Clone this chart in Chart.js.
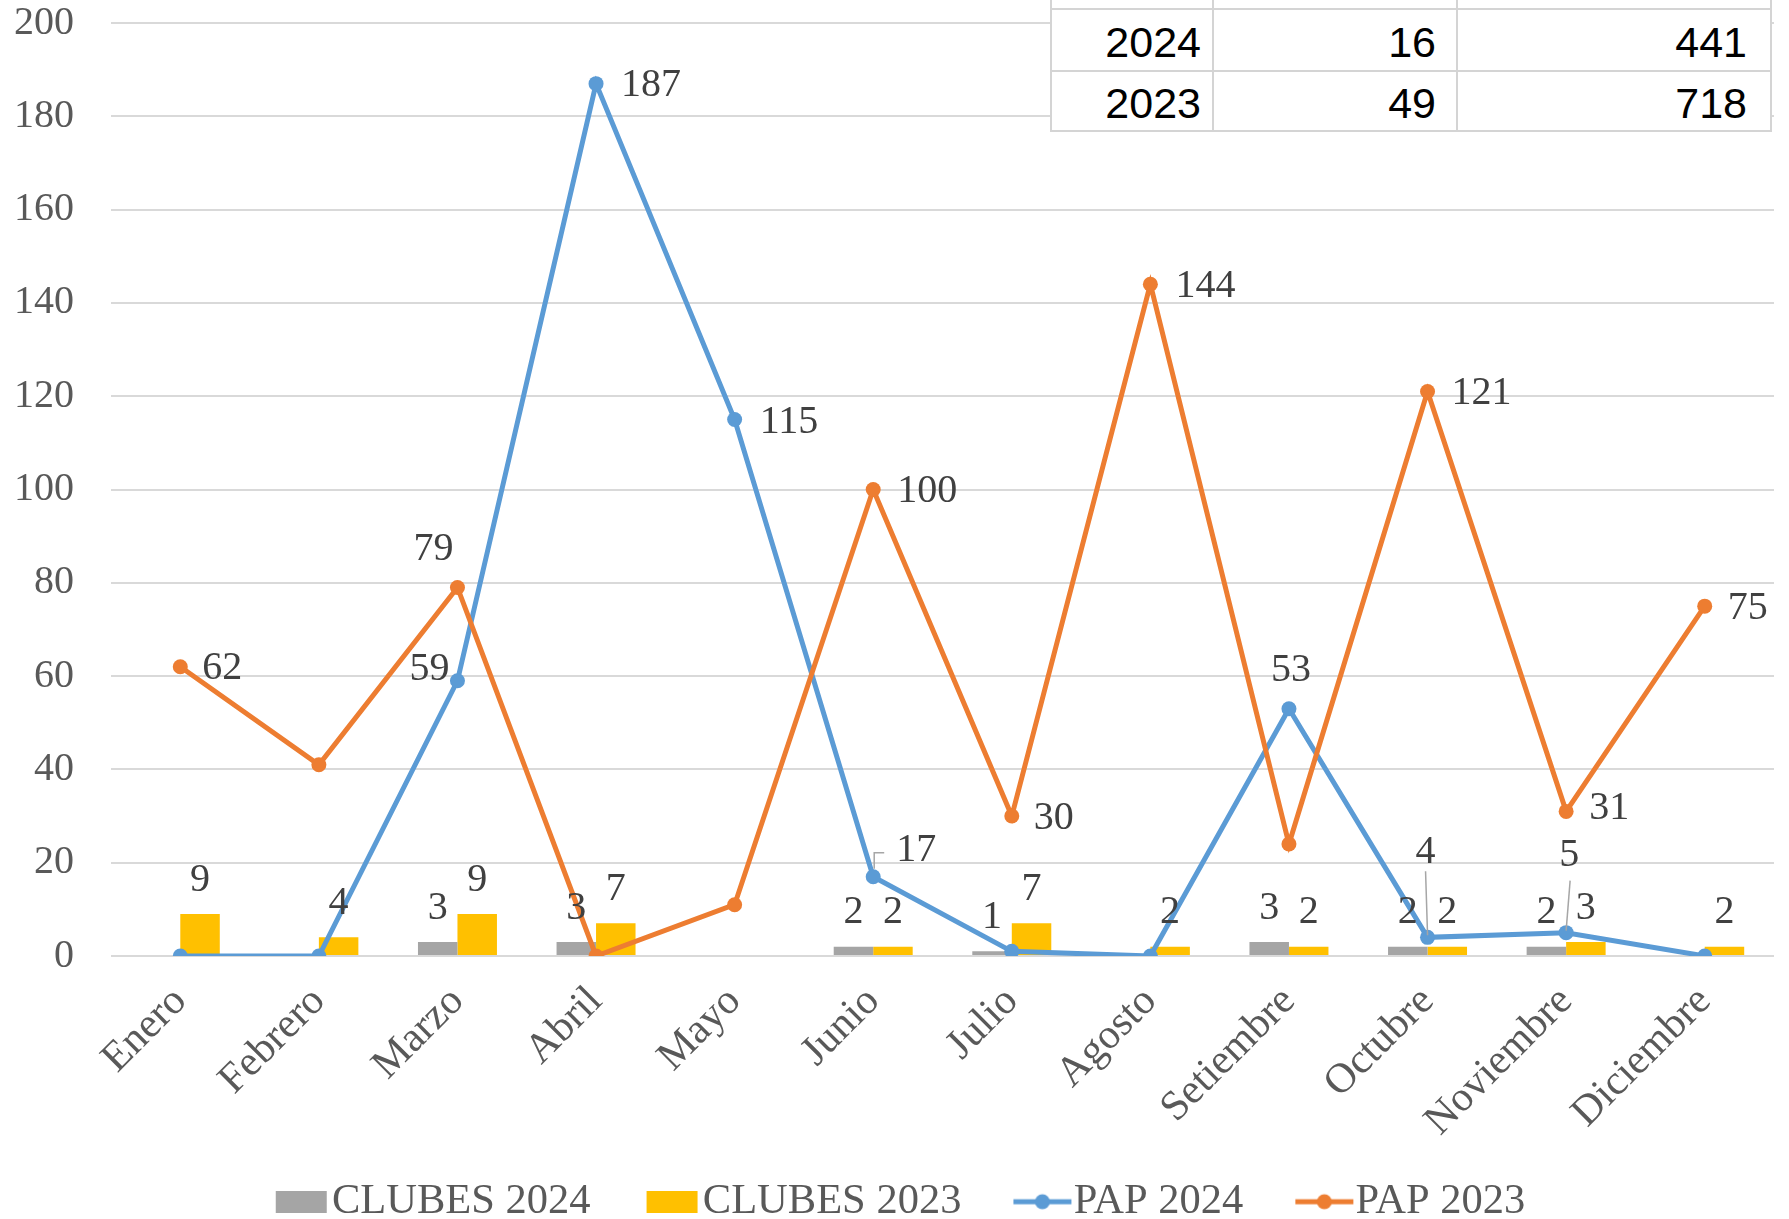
<!DOCTYPE html>
<html><head><meta charset="utf-8">
<script src="https://cdn.jsdelivr.net/npm/chart.js@4.4.1/dist/chart.umd.min.js"></script>
<style>
html,body{margin:0;padding:0;background:#fff;}
#wrap{position:relative;width:1789px;height:1219px;overflow:hidden;background:#fff;}
#c{position:absolute;left:0;top:0;}
#tbl{position:absolute;left:1050px;top:-52px;border-collapse:collapse;background:#fff;font-family:"Liberation Sans",Arial,sans-serif;font-size:43px;color:#000;table-layout:fixed;}
#tbl td{border:2px solid #d4d4d4;text-align:right;padding:4px 0 0 0;box-sizing:border-box;line-height:1;}
#tbl td.c1{width:162px;padding-right:11px;}
#tbl td.c2{width:244px;padding-right:20px;}
#tbl td.c3{width:314px;padding-right:23px;}
</style></head>
<body>
<div id="wrap">
<canvas id="c" width="1789" height="1219"></canvas>
<table id="tbl">
<tr style="height:60px"><td class="c1"></td><td class="c2"></td><td class="c3"></td></tr>
<tr style="height:62px"><td class="c1">2024</td><td class="c2">16</td><td class="c3">441</td></tr>
<tr style="height:60px"><td class="c1">2023</td><td class="c2">49</td><td class="c3">718</td></tr>
</table>
</div>
<script>
// ---- data ----
const months = ['Enero','Febrero','Marzo','Abril','Mayo','Junio','Julio','Agosto','Setiembre','Octubre','Noviembre','Diciembre'];
const clubes2024 = [null,null,3,3,null,2,1,null,3,2,2,null];
const clubes2023 = [9,4,9,7,null,2,7,2,2,2,3,2];
const pap2024 = [0,0,59,187,115,17,1,0,53,4,5,0];
const pap2023 = [62,41,79,0,11,100,30,144,24,121,31,75];
const seriesNames = ['CLUBES 2024','CLUBES 2023','PAP 2024','PAP 2023'];
const yMin = 0, yMax = 200, yStep = 20;

// ---- styling ----
const SERIF = '"Liberation Serif", "Times New Roman", serif';
const colors = ['#a5a5a5','#ffc000','#5b9bd5','#ed7d31'];

// label placement for line series (dataset index -> point index -> placement)
const lineLabelLayout = {
  2: {
    2:{a:'right',dx:-8,dy:-11},
    3:{a:'left',dx:25,dy:2},
    4:{a:'left',dx:25,dy:3},
    5:{a:'left',dx:23,dy:-26,leader:[[1,-8],[1,-24],[11,-24]]},
    8:{a:'center',dx:2,dy:-38},
    9:{a:'center',dx:-2,dy:-85,leader:[[0,-2],[-2,-66]]},
    10:{a:'center',dx:3,dy:-77,leader:[[0,-2],[4,-52]]}
  },
  3: {
    0:{a:'left',dx:22,dy:2},
    2:{a:'center',dx:-24,dy:-38},
    5:{a:'left',dx:24,dy:2},
    6:{a:'left',dx:22,dy:2},
    7:{a:'left',dx:25,dy:2},
    9:{a:'left',dx:24,dy:2},
    10:{a:'left',dx:23,dy:-3},
    11:{a:'left',dx:23,dy:2}
  }
};

// legend icons: wide transparent canvas, symbol placed so it sits next to the text
const LEG_BOX_W = 62, ICON_W = 220;
function makeRectIcon(color){
  const c = document.createElement('canvas');
  c.width = ICON_W; c.height = 22;
  const g = c.getContext('2d');
  const x0 = ICON_W/2 - LEG_BOX_W/2 + 27;
  g.fillStyle = color; g.fillRect(x0, 0, 51, 22);
  return c;
}
function makeLineIcon(color){
  const c = document.createElement('canvas');
  c.width = ICON_W; c.height = 18;
  const g = c.getContext('2d');
  const x0 = ICON_W/2 - LEG_BOX_W/2 + 23;
  g.strokeStyle = color; g.lineWidth = 5;
  g.beginPath(); g.moveTo(x0,9); g.lineTo(x0+58,9); g.stroke();
  g.fillStyle = color; g.beginPath(); g.arc(x0+29,9,7.5,0,Math.PI*2); g.fill();
  return c;
}
const legendIcons = [makeRectIcon(colors[0]), makeRectIcon(colors[1]), makeLineIcon(colors[2]), makeLineIcon(colors[3])];

const valueLabels = {
  id:'valueLabels',
  afterDatasetsDraw(chart){
    const ctx = chart.ctx;
    ctx.save();
    ctx.font = '40px ' + SERIF;
    ctx.fillStyle = '#404040';
    ctx.textBaseline = 'middle';
    chart.data.datasets.forEach((ds, di) => {
      const meta = chart.getDatasetMeta(di);
      meta.data.forEach((el, i) => {
        const v = ds.data[i];
        if (v === null || v === undefined) return;
        if (ds.type === 'bar') {
          ctx.textAlign = 'center';
          ctx.fillText(String(v), el.x, el.y - 34);
        } else {
          const L = lineLabelLayout[di] && lineLabelLayout[di][i];
          if (!L) return;
          if (L.leader) {
            ctx.save();
            ctx.strokeStyle = '#a6a6a6'; ctx.lineWidth = 1.5;
            ctx.beginPath();
            L.leader.forEach((p, k) => { const px = el.x + p[0], py = el.y + p[1]; if (k===0) ctx.moveTo(px,py); else ctx.lineTo(px,py); });
            ctx.stroke();
            ctx.restore();
          }
          ctx.textAlign = L.a;
          ctx.fillText(String(v), el.x + L.dx, el.y + L.dy);
        }
      });
    });
    ctx.restore();
  }
};

new Chart(document.getElementById('c'), {
  data: {
    labels: months,
    datasets: [
      {type:'bar', label:seriesNames[0], data:clubes2024, backgroundColor:colors[0], order:3},
      {type:'bar', label:seriesNames[1], data:clubes2023, backgroundColor:colors[1], order:3},
      {type:'line', label:seriesNames[2], data:pap2024, borderColor:colors[2], backgroundColor:colors[2], borderWidth:5, pointRadius:7.5, pointBorderWidth:0, pointBackgroundColor:colors[2], tension:0, order:2},
      {type:'line', label:seriesNames[3], data:pap2023, borderColor:colors[3], backgroundColor:colors[3], borderWidth:5, pointRadius:7.5, pointBorderWidth:0, pointBackgroundColor:colors[3], tension:0, order:1}
    ]
  },
  options: {
    responsive:false,
    animation:false,
    datasets:{bar:{barPercentage:1, categoryPercentage:0.57}},
    layout:{padding:{top:0,right:15,bottom:-14,left:0}},
    scales:{
      x:{
        offset:true,
        grid:{display:false, drawTicks:false},
        border:{display:false},
        ticks:{minRotation:45,maxRotation:45,autoSkip:false,padding:21,color:'#595959',font:{family:SERIF,size:42}},
        afterFit(s){ s.height = 195.5; }
      },
      y:{
        min:yMin, max:yMax,
        grid:{color:'#d9d9d9', lineWidth:2, drawTicks:false},
        border:{display:false},
        ticks:{stepSize:yStep, padding:37, color:'#595959', font:{family:SERIF,size:40,lineHeight:1.15}},
        afterFit(s){ s.width = 111; s.paddingTop = 23; s.paddingBottom = 23; }
      }
    },
    plugins:{
      tooltip:{enabled:false},
      legend:{
        position:'bottom',
        labels:{
          usePointStyle:true, pointStyleWidth:LEG_BOX_W, boxHeight:22, padding:29,
          color:'#595959', font:{family:SERIF,size:42.5},
          sort:(a,b)=>a.datasetIndex-b.datasetIndex,
          generateLabels(chart){
            const items = Chart.defaults.plugins.legend.labels.generateLabels(chart);
            items.forEach(it => {
              it.pointStyle = legendIcons[it.datasetIndex];
              it.lineWidth = 0;
              it.strokeStyle = 'rgba(0,0,0,0)';
              it.rotation = 0;
            });
            return items;
          }
        }
      }
    }
  },
  plugins:[valueLabels]
});
</script>
</body></html>
